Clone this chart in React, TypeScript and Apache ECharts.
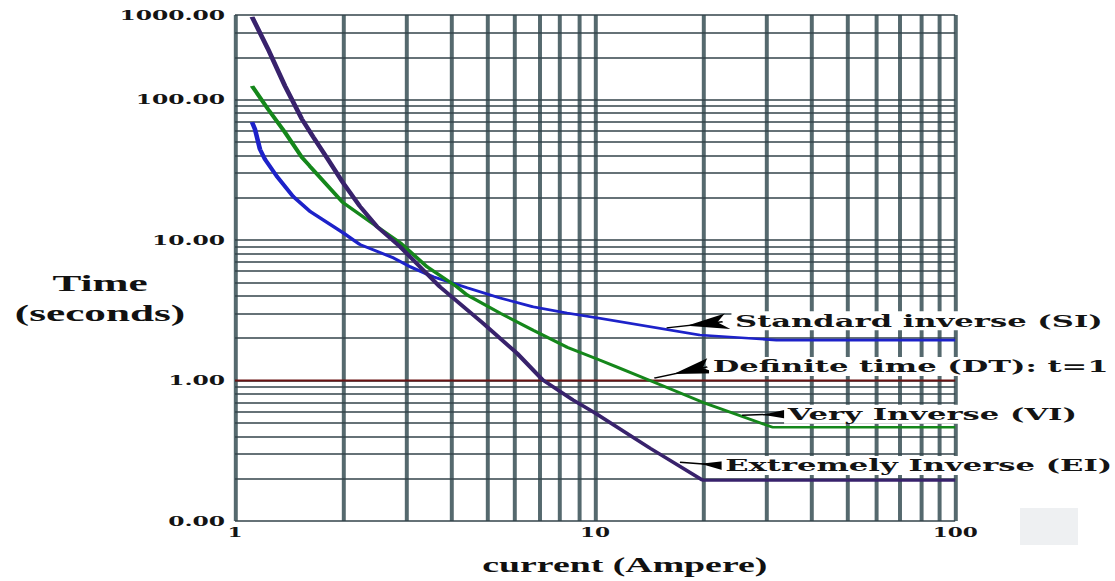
import React, { useEffect, useRef } from "react";
import * as echarts from "echarts";

// The reference picture is stretched horizontally; the chart is drawn in a
// narrower box and widened with a CSS scaleX so glyphs and lines match.
const S = 1.8;
const PAGE_W = 1115;
const PAGE_H = 581;
const INNER_W = PAGE_W / S;

// ---- data ----
const SI_CURRENT = [1.115, 1.136, 1.173, 1.211, 1.307, 1.448, 1.615, 1.993, 2.222, 2.744, 3.06, 3.54, 4.4, 5.43, 6.71, 8.34, 10.29, 19.5, 31.9, 100];
const SI_TIME = [69.1, 61.6, 44.3, 37.6, 28.4, 20.5, 16.0, 11.3, 9.29, 7.5, 6.47, 5.49, 4.58, 3.88, 3.35, 3.02, 2.78, 2.11, 1.94, 1.94];

const VI_CURRENT = [1.115, 1.235, 1.376, 1.534, 1.615, 1.993, 2.477, 2.869, 3.41, 4.13, 4.4, 5.43, 6.71, 8.34, 10.29, 11.47, 14.2, 19.9, 31.1, 100];
const VI_TIME = [125, 85.5, 58.6, 38.8, 33.5, 18.5, 12.5, 9.6, 6.47, 4.65, 4.08, 3.03, 2.29, 1.73, 1.4, 1.25, 1.0, 0.7, 0.465, 0.465];

const EI_CURRENT = [1.115, 1.235, 1.376, 1.534, 1.646, 1.811, 1.993, 2.222, 2.477, 2.869, 3.26, 3.705, 4.875, 6.06, 7.15, 8.66, 9.97, 14.2, 19.9, 100];
const EI_TIME = [388, 229, 125, 72.6, 54.6, 37.6, 25.7, 17.4, 12.5, 9.0, 6.47, 4.65, 2.57, 1.57, 1.01, 0.73, 0.59, 0.33, 0.195, 0.195];

const DT_CURRENT = [1, 100];
const DT_TIME = [1, 1];

const X_TICK_VALUES = [1, 10, 100];
const X_TICK_LABELS = ["1", "10", "100"];
const Y_TICK_VALUES = [0.1, 1, 10, 100, 400];
const Y_TICK_LABELS = ["0.00", "1.00", "10.00", "100.00", "1000.00"];

const X_GRID = [1, 2, 3, 4, 5, 6, 7, 8, 9, 10, 20, 30, 40, 50, 60, 70, 80, 90, 100];
const Y_GRID = [0.1, 0.2, 0.3, 0.4, 0.5, 0.6, 0.7, 0.8, 0.9, 1, 2, 3, 4, 5, 6, 7, 8, 9, 10, 20, 30, 40, 50, 60, 70, 80, 90, 100, 200, 300, 400];

const NOTE_TEXT = ["Standard inverse (SI)", "Definite time (DT): t=1", "Very Inverse (VI)", "Extremely Inverse (EI)"];
const NOTE_TIP = [[15.8, 2.37], [14.6, 1.04], [25.6, 0.567], [17.2, 0.262]];
const NOTE_TAIL = [[22.6, 2.62], [20.5, 1.25], [33.1, 0.576], [22.2, 0.249]];

const zip = (xs: number[], ys: number[]) => xs.map((x, i) => [x, ys[i]]);

const pickLabel = (values: number[], labels: string[]) => (v: number) => {
  let best = 0;
  let bestD = Infinity;
  values.forEach((t, i) => {
    const d = Math.abs(Math.log10(v) - Math.log10(t));
    if (d < bestD) {
      bestD = d;
      best = i;
    }
  });
  return labels[best];
};

const labelFont = { fontFamily: "DejaVu Serif", fontWeight: "bold" as const, color: "#141414" };

function note(i: number, gap: number) {
  return {
    silent: true,
    z: 10,
    symbol: ["none", "none"],
    lineStyle: { color: "#000", width: 1.5, type: "solid" as const },
    label: {
      show: true,
      position: "end" as const,
      formatter: NOTE_TEXT[i],
      ...labelFont,
      fontSize: 17,
      backgroundColor: "#fff",
      padding: [1, 2, 1, 2],
      distance: gap,
    },
    data: [
      [
        { coord: NOTE_TIP[i], symbol: "arrow", symbolSize: [12, 23], symbolOffset: [0, 11.5] },
        { coord: NOTE_TAIL[i], symbol: "none" },
      ],
    ],
  };
}

function buildOption() {
  return {
    animation: false,
    backgroundColor: "#fff",
    grid: { left: 235 / S, right: (PAGE_W - 956) / S, top: 15, bottom: 60, containLabel: false, outerBoundsMode: "none" },
    xAxis: {
      type: "log",
      logBase: 10,
      min: 1,
      max: 100,
      axisLine: { show: false },
      axisTick: { show: false },
      splitLine: { show: false },
      axisLabel: { ...labelFont, fontSize: 12, margin: 6, formatter: pickLabel(X_TICK_VALUES, X_TICK_LABELS) },
      name: "current (Ampere)",
      nameLocation: "middle",
      nameGap: 34,
      nameMoveOverlap: false,
      nameTextStyle: {
        fontFamily: "Liberation Serif",
        fontWeight: "bold",
        fontSize: 21,
        lineHeight: 21,
        color: "#111",
        padding: [0, 0, 0, 33],
      },
    },
    yAxis: {
      type: "log",
      logBase: 10,
      min: 0.1,
      max: 400,
      axisLine: { show: false },
      axisTick: { show: false },
      splitLine: { show: false },
      axisLabel: { ...labelFont, fontSize: 13, margin: 5.5, formatter: pickLabel(Y_TICK_VALUES, Y_TICK_LABELS) },
      name: "\n\nTime\n(seconds)",
      nameLocation: "middle",
      nameRotate: 0,
      nameGap: 75,
      nameMoveOverlap: false,
      nameTextStyle: {
        fontFamily: "Liberation Serif",
        fontWeight: "bold",
        fontSize: 24,
        lineHeight: 30,
        color: "#111",
        align: "center",
        verticalAlign: "middle",
      },
    },
    graphic: [
      { type: "rect", shape: { x: 1020 / S, y: 508, width: 58 / S, height: 37 }, style: { fill: "#eef0f2" }, z: -1 },
    ],
    series: [
      {
        name: "grid",
        type: "line",
        data: [],
        silent: true,
        markLine: {
          silent: true,
          z: 1,
          symbol: ["none", "none"],
          label: { show: false },
          data: [
            ...X_GRID.map((v) => ({ xAxis: v, lineStyle: { color: "#55696e", width: 2.2, type: "solid" } })),
            ...Y_GRID.map((v) => ({ yAxis: v, lineStyle: { color: "#33434a", width: 1.5, type: "solid" } })),
          ],
        },
      },
      {
        name: "Standard inverse (SI)",
        type: "line",
        z: 3,
        data: zip(SI_CURRENT, SI_TIME),
        showSymbol: false,
        lineStyle: { color: "#1d22c9", width: 2.6 },
        markLine: note(0, 5),
      },
      {
        name: "Definite time (DT)",
        type: "line",
        z: 3,
        data: zip(DT_CURRENT, DT_TIME),
        showSymbol: false,
        lineStyle: { color: "#6a1212", width: 2.2 },
        markLine: note(1, 1),
      },
      {
        name: "Very Inverse (VI)",
        type: "line",
        z: 3,
        data: zip(VI_CURRENT, VI_TIME),
        showSymbol: false,
        lineStyle: { color: "#15871b", width: 2.6 },
        markLine: note(2, 1),
      },
      {
        name: "Extremely Inverse (EI)",
        type: "line",
        z: 3,
        data: zip(EI_CURRENT, EI_TIME),
        showSymbol: false,
        lineStyle: { color: "#38226c", width: 2.8 },
        markLine: note(3, 1),
      },
    ],
  };
}

export default function App() {
  const ref = useRef<HTMLDivElement>(null);
  useEffect(() => {
    if (!ref.current) return;
    const chart = echarts.init(ref.current, null, { renderer: "svg" });
    chart.setOption(buildOption() as any);
    return () => chart.dispose();
  }, []);
  return (
    <div
      style={{
        position: "fixed",
        left: 0,
        top: 0,
        width: PAGE_W,
        height: PAGE_H,
        overflow: "hidden",
        background: "#fff",
      }}
    >
      <div
        ref={ref}
        style={{ width: INNER_W, height: PAGE_H, transform: `scaleX(${S})`, transformOrigin: "0 0" }}
      />
    </div>
  );
}
